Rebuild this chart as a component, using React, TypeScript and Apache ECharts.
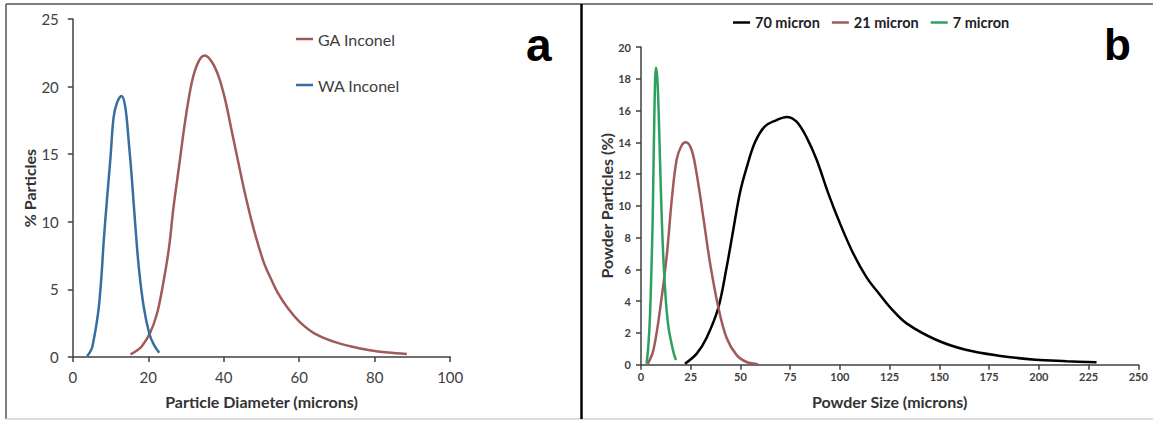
import React, { useEffect, useRef } from "react";
import * as echarts from "echarts";

// Panel a
const waX = [3.8, 5.0, 5.5, 6.2, 6.9, 7.6, 8.2, 9.1, 10.0, 10.8, 11.7, 12.9, 13.9, 14.8, 15.7, 16.6, 17.5, 18.8, 20.3, 21.5, 22.9];
const waY = [0.05, 0.6, 1.2, 2.3, 3.7, 6.0, 8.6, 11.8, 14.8, 17.7, 18.8, 19.3, 18.5, 16.0, 13.0, 9.6, 6.6, 3.7, 1.7, 0.9, 0.32];
const gaX = [15.3, 16.8, 18.3, 20.5, 22.3, 23.6, 25.4, 26.7, 28.1, 29.8, 31.6, 33.4, 35.0, 36.9, 38.7, 40.4, 42.2, 44.0, 45.7, 47.9, 50.6, 52.8, 54.2, 57.0, 60.1, 64.0, 68.9, 73.5, 78.7, 83.5, 88.5];
const gaY = [0.2, 0.45, 0.8, 1.8, 3.2, 4.9, 7.9, 11.1, 14.0, 17.5, 20.4, 21.9, 22.3, 21.8, 20.7, 19.0, 16.6, 14.2, 12.0, 9.5, 7.0, 5.6, 4.8, 3.6, 2.6, 1.75, 1.16, 0.8, 0.5, 0.33, 0.22];

// Panel b
const m7X = [2.8, 3.7, 4.5, 5.2, 5.9, 6.7, 7.5, 8.1, 8.7, 9.3, 9.9, 10.5, 11.2, 12.0, 12.9, 14.0, 15.4, 16.5, 17.6];
const m7Y = [0.06, 1.2, 3.0, 5.8, 9.3, 15.6, 18.7, 18.2, 16.6, 14.0, 11.4, 9.0, 6.8, 5.0, 3.4, 2.2, 1.3, 0.7, 0.3];
const m21X = [3.2, 6.2, 9.5, 12.9, 15.4, 17.9, 20.4, 22.6, 25.5, 28.0, 31.3, 34.7, 38.9, 43.0, 48.1, 53.1, 59.0];
const m21Y = [0.0, 0.9, 3.4, 6.8, 10.3, 12.9, 13.8, 14.0, 13.5, 12.0, 9.3, 6.4, 3.6, 1.7, 0.6, 0.17, 0.02];
const m70X = [22.1, 28.0, 33.0, 38.9, 43.0, 46.4, 49.7, 53.1, 57.3, 62.3, 68.2, 73.2, 78.2, 83.3, 88.3, 94.1, 100.0, 106.7, 113.4, 120.1, 126.0, 133.5, 148.3, 163.2, 179.8, 198.3, 214.0, 229.0];
const m70Y = [0.06, 0.7, 1.7, 3.6, 6.1, 8.5, 10.8, 12.4, 14.0, 15.0, 15.4, 15.6, 15.3, 14.3, 12.9, 10.8, 8.9, 7.0, 5.5, 4.4, 3.5, 2.6, 1.57, 0.94, 0.57, 0.31, 0.22, 0.15];

const namesA = ["GA Inconel", "WA Inconel"];
const namesB = ["70 micron", "21 micron", "7 micron"];
const panelLabels = ["a", "b"];

const zip = (xs: number[], ys: number[]) => xs.map((x, i) => [x, ys[i]]);

const FONT = "Lato, 'Noto Sans', sans-serif";
const AX = "#404040";
const BROWN = "#A05A5A";
const BLUE = "#376EA0";
const GREEN = "#2EA05E";

function axisBase(bold: boolean, size: number, margin: number) {
  return {
    axisLine: { show: true, lineStyle: { color: AX, width: 1.5 } },
    axisTick: { show: true, length: 5, lineStyle: { color: AX, width: 1.5 } },
    splitLine: { show: false },
    axisLabel: { color: "#404040", fontFamily: FONT, fontSize: size, fontWeight: bold ? "bold" : "normal", margin },
    nameTextStyle: { color: "#333", fontFamily: FONT, fontSize: 16, fontWeight: "bold" },
    nameLocation: "middle" as const,
  };
}

function lineSeries(name: string, color: string, data: number[][], idx: number) {
  return {
    type: "line",
    name,
    xAxisIndex: idx,
    yAxisIndex: idx,
    data,
    smooth: 0.35,
    showSymbol: false,
    symbol: "none",
    lineStyle: { color, width: 2.5 },
    itemStyle: { color },
  };
}

export default function App() {
  const ref = useRef<HTMLDivElement>(null);
  useEffect(() => {
    document.body.style.margin = "0";
    const chart = echarts.init(ref.current!, null, { renderer: "svg" });
    const option = {
      animation: false,
      backgroundColor: "#fff",
      grid: [
        { left: 72.8, right: 1153 - 450.2, top: 19, bottom: 421 - 357, containLabel: false },
        { left: 641, right: 1153 - 1138.3, top: 47, bottom: 421 - 364.7, containLabel: false },
      ],
      xAxis: [
        {
          ...axisBase(false, 15, 12),
          type: "value",
          gridIndex: 0,
          min: 0,
          max: 100,
          interval: 20,
          name: "Particle Diameter (microns)",
          nameGap: 36,
        },
        {
          ...axisBase(true, 11, 6),
          type: "value",
          gridIndex: 1,
          min: 0,
          max: 250,
          interval: 25,
          name: "Powder Size (microns)",
          nameGap: 29,
        },
      ],
      yAxis: [
        {
          ...axisBase(false, 15, 14),
          type: "value",
          gridIndex: 0,
          min: 0,
          max: 25,
          interval: 5,
          name: "% Particles",
          nameGap: 34,
        },
        {
          ...axisBase(true, 11, 10),
          type: "value",
          gridIndex: 1,
          min: 0,
          max: 20,
          interval: 2,
          name: "Powder Particles (%)",
          nameGap: 27,
        },
      ],
      legend: [
        {
          data: namesA,
          orient: "vertical",
          left: 291,
          top: 26,
          itemGap: 30,
          itemWidth: 17,
          itemHeight: 2.5,
          icon: "rect",
          textStyle: { color: "#404040", fontFamily: FONT, fontSize: 16 },
        },
        {
          data: namesB,
          orient: "horizontal",
          left: 728,
          top: 10,
          itemGap: 12,
          itemWidth: 17,
          itemHeight: 2.5,
          icon: "rect",
          textStyle: { color: "#222", fontFamily: FONT, fontSize: 14.5, fontWeight: "bold" },
        },
      ],
      series: [
        lineSeries(namesA[0], BROWN, zip(gaX, gaY), 0),
        lineSeries(namesA[1], BLUE, zip(waX, waY), 0),
        lineSeries(namesB[0], "#000", zip(m70X, m70Y), 1),
        lineSeries(namesB[1], BROWN, zip(m21X, m21Y), 1),
        lineSeries(namesB[2], GREEN, zip(m7X, m7Y), 1),
      ],
      graphic: [
        { type: "line", shape: { x1: 6, y1: 4, x2: 1153, y2: 4 }, style: { stroke: "#555", lineWidth: 1.5 } },
        { type: "line", shape: { x1: 6, y1: 4, x2: 6, y2: 419 }, style: { stroke: "#555", lineWidth: 1.5 } },
        { type: "line", shape: { x1: 6, y1: 419, x2: 1153, y2: 419 }, style: { stroke: "#d0d0d0", lineWidth: 1.5 } },
        { type: "line", shape: { x1: 581.5, y1: 4, x2: 581.5, y2: 419 }, style: { stroke: "#000", lineWidth: 2.5 } },
        {
          type: "text",
          left: 526,
          top: 22,
          style: { text: panelLabels[0], font: "bold 46px 'Liberation Sans', Arial, sans-serif", fill: "#000" },
        },
        {
          type: "text",
          left: 1104,
          top: 22,
          style: { text: panelLabels[1], font: "bold 44px 'Liberation Sans', Arial, sans-serif", fill: "#000" },
        },
      ],
    };
    chart.setOption(option as any);
    return () => chart.dispose();
  }, []);
  return <div ref={ref} style={{ width: 1153, height: 421 }} />;
}
